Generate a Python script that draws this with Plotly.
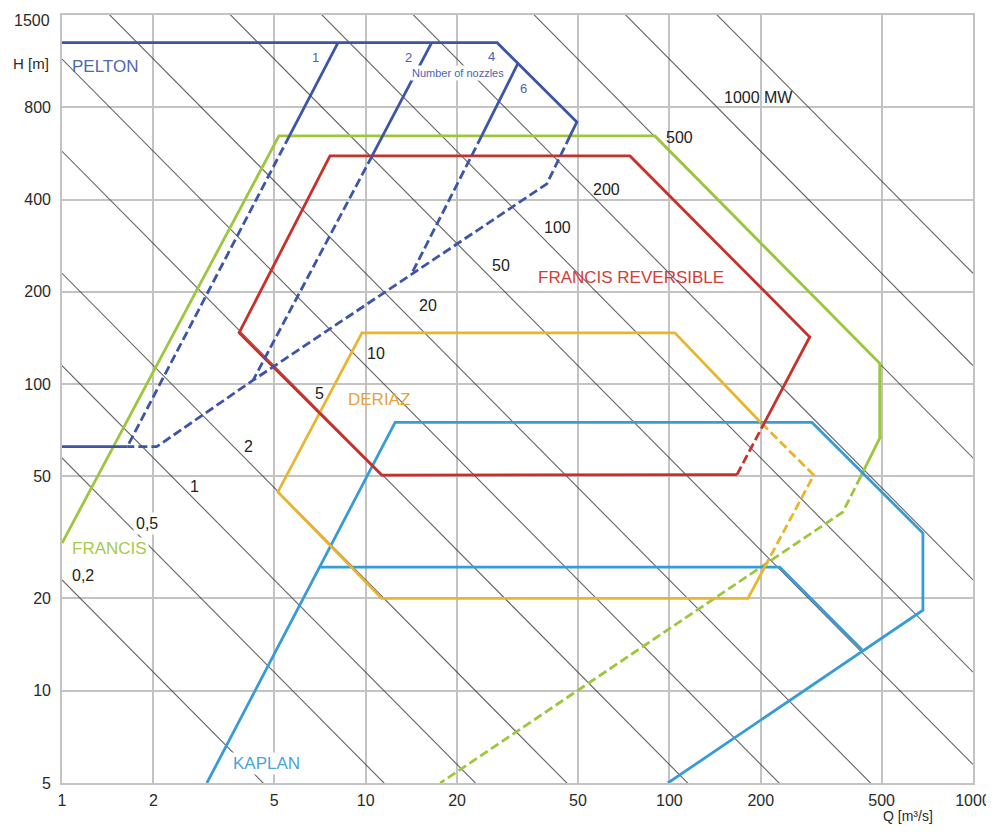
import numpy as np
import plotly.graph_objects as go

# ---------------- data ----------------
# axis ticks
x_ticks = [1, 2, 5, 10, 20, 50, 100, 200, 500, 1000]
y_ticks = [5, 10, 20, 50, 100, 200, 400, 800]

# constant power lines  P = 9.81 * Q * H * eta / 1000  [MW]
power_mw = [0.2, 0.5, 1, 2, 5, 10, 20, 50, 100, 200, 500, 1000, 2000]
eta = 0.887
power_labels = ["0,2", "0,5", "1", "2", "5", "10", "20", "50", "100", "200", "500", "1000 MW"]
power_label_q = [1.17, 1.90, 2.74, 4.10, 7.07, 10.8, 16.0, 27.9, 42.7, 62.3, 108, 196]
power_label_h = [23.8, 35.0, 46.5, 62.4, 92.9, 126, 180, 244, 325, 433, 640, 864]

# PELTON envelope
pelton_solid_q = [1, 27.1, 49.6, 47.1]
pelton_solid_h = [1300, 1300, 716, 645]
pelton_dash_q = [47.1, 39.5, 4.26, 2.05, 1.64]
pelton_dash_h = [645, 450, 103, 62.5, 62.5]
pelton_base_q = [1.64, 1]
pelton_base_h = [62.5, 62.5]
# nozzle lines (solid part, dashed part)
nozzle1_solid_q, nozzle1_solid_h = [8.11, 5.61], [1300, 645]
nozzle1_dash_q, nozzle1_dash_h = [5.61, 1.64], [645, 62.5]
nozzle2_solid_q, nozzle2_solid_h = [16.5, 10.5], [1300, 555]
nozzle2_dash_q, nozzle2_dash_h = [10.5, 4.26], [555, 103]
nozzle6_solid_q, nozzle6_solid_h = [31.7, 24.1], [1110, 645]
nozzle6_dash_q, nozzle6_dash_h = [24.1, 14.2], [645, 230]

# FRANCIS envelope
francis_solid_q = [1, 5.18, 89.7, 493, 493, 427]
francis_solid_h = [30.3, 645, 645, 117, 66.7, 50]
francis_dash_q = [427, 373, 17.6]
francis_dash_h = [50, 38.3, 5]

# FRANCIS REVERSIBLE envelope
frrev_solid_q = [206, 290, 74.2, 7.63, 3.83, 11.3, 167]
frrev_solid_h = [75, 142.6, 555, 555, 147, 50.5, 50.7]
frrev_dash_q = [167, 206]
frrev_dash_h = [50.7, 75]

# DERIAZ envelope
deriaz_solid_q = [200, 104.3, 9.72, 5.14, 11.3, 181.5, 206]
deriaz_solid_h = [75, 147, 147, 44.5, 20, 20, 25.3]
deriaz_dash_q = [206, 299, 200]
deriaz_dash_h = [25.3, 50.5, 75]

# KAPLAN envelope
kaplan_outer_q = [3.0, 12.5, 295, 684, 684, 98.9]
kaplan_outer_h = [5, 75, 75, 32.7, 18.3, 5]
kaplan_inner_q = [7.07, 231, 431]
kaplan_inner_h = [25.3, 25.3, 13.6]

# ---------------- styles ----------------
FONT = "Liberation Sans, Arial, sans-serif"
C_PELTON = "#3c55a6"
C_FRANCIS = "#9cc73c"
C_FRREV = "#c8302a"
C_DERIAZ = "#e9b52f"
C_KAPLAN = "#379bd5"
LW = 2.8
DASH = "9px,4px"

fig = go.Figure()

# power lines
for p in power_mw:
    qh = p * 1000.0 / (9.81 * eta)
    qs = np.array([1.0, 1000.0])
    fig.add_trace(go.Scatter(x=qs, y=qh / qs, mode="lines",
                             line=dict(color="rgba(60,60,60,0.8)", width=1.1),
                             hoverinfo="skip"))


def poly(q, h, color, dash=None):
    fig.add_trace(go.Scatter(x=q, y=h, mode="lines",
                             line=dict(color=color, width=LW, dash=dash or "solid"),
                             hoverinfo="skip"))


poly(francis_solid_q, francis_solid_h, C_FRANCIS)
poly(francis_dash_q, francis_dash_h, C_FRANCIS, DASH)
poly(kaplan_outer_q, kaplan_outer_h, C_KAPLAN)
poly(kaplan_inner_q, kaplan_inner_h, C_KAPLAN)
poly(deriaz_solid_q, deriaz_solid_h, C_DERIAZ)
poly(deriaz_dash_q, deriaz_dash_h, C_DERIAZ, DASH)
poly(frrev_solid_q, frrev_solid_h, C_FRREV)
poly(frrev_dash_q, frrev_dash_h, C_FRREV, DASH)
poly(pelton_solid_q, pelton_solid_h, C_PELTON)
poly(pelton_dash_q, pelton_dash_h, C_PELTON, DASH)
poly(pelton_base_q, pelton_base_h, C_PELTON)
poly(nozzle1_solid_q, nozzle1_solid_h, C_PELTON)
poly(nozzle1_dash_q, nozzle1_dash_h, C_PELTON, DASH)
poly(nozzle2_solid_q, nozzle2_solid_h, C_PELTON)
poly(nozzle2_dash_q, nozzle2_dash_h, C_PELTON, DASH)
poly(nozzle6_solid_q, nozzle6_solid_h, C_PELTON)
poly(nozzle6_dash_q, nozzle6_dash_h, C_PELTON, DASH)

ann = []
lg = np.log10

for t, q, h in zip(power_labels, power_label_q, power_label_h):
    ann.append(dict(x=lg(q), y=lg(h), xref="x", yref="y", text=t, showarrow=False,
                    font=dict(family=FONT, size=16, color="#222"),
                    bgcolor="white" if t in ("0,5",) else None, borderpad=2))

names = [
    ("PELTON", 1.386, 1090, "#5166b0", 17, None),
    ("FRANCIS", 1.43, 29.2, "#a4cb47", 17, "white"),
    ("FRANCIS REVERSIBLE", 74.7, 223, "#d23d36", 17, None),
    ("DERIAZ", 11.1, 88.8, "#e3a33c", 17, None),
    ("KAPLAN", 4.73, 5.8, "#46a5da", 17, "white"),
    ("1", 6.86, 1167, "#4a62b0", 13, None),
    ("2", 13.8, 1167, "#4a62b0", 13, None),
    ("4", 25.9, 1175, "#4a62b0", 13, None),
    ("6", 33.0, 924, "#4a62b0", 13, None),
    ("Number of nozzles", 20.1, 1034, "#4a62b0", 11, "white"),
]
for t, q, h, c, s, bg in names:
    ann.append(dict(x=lg(q), y=lg(h), xref="x", yref="y", text=t, showarrow=False,
                    font=dict(family=FONT, size=s, color=c), bgcolor=bg, borderpad=1))

ann.append(dict(x=0, y=lg(1540), xref="paper", yref="y", text="1500", showarrow=False,
                xanchor="right", xshift=-10, font=dict(family=FONT, size=16, color="#2a2a2a")))
ann.append(dict(x=0, y=lg(1115), xref="paper", yref="y", text="H [m]", showarrow=False,
                xanchor="right", xshift=-11, font=dict(family=FONT, size=15, color="#2a2a2a")))
ann.append(dict(x=0.958, y=-0.056, xref="paper", yref="paper", text="Q [m³/s]", showarrow=False,
                font=dict(family=FONT, size=14, color="#2a2a2a")))

# page body adds an 8px offset, so the figure is 8px smaller and margins shifted
fig.update_layout(
    width=986, height=824,
    margin=dict(l=54, r=21, t=7, b=49),
    plot_bgcolor="white", paper_bgcolor="white",
    showlegend=False, annotations=ann,
    font=dict(family=FONT),
)
fig.update_xaxes(type="log", range=[0, 3], tickvals=x_ticks, ticktext=[str(v) for v in x_ticks],
                 showgrid=True, gridcolor="#c3c3c3", gridwidth=1.6, automargin=False,
                 showline=True, mirror=True, linecolor="#c3c3c3", linewidth=1.6,
                 zeroline=False, ticks="", ticklabelstandoff=2,
                 tickfont=dict(family=FONT, size=16, color="#2a2a2a"))
fig.update_yaxes(type="log", range=[lg(5), lg(1600)], tickvals=y_ticks, ticktext=[str(v) for v in y_ticks],
                 showgrid=True, gridcolor="#c3c3c3", gridwidth=1.6, automargin=False,
                 showline=True, mirror=True, linecolor="#c3c3c3", linewidth=1.6,
                 zeroline=False, ticks="", ticklabelstandoff=6,
                 tickfont=dict(family=FONT, size=16, color="#2a2a2a"))

fig.write_html("out.html")
